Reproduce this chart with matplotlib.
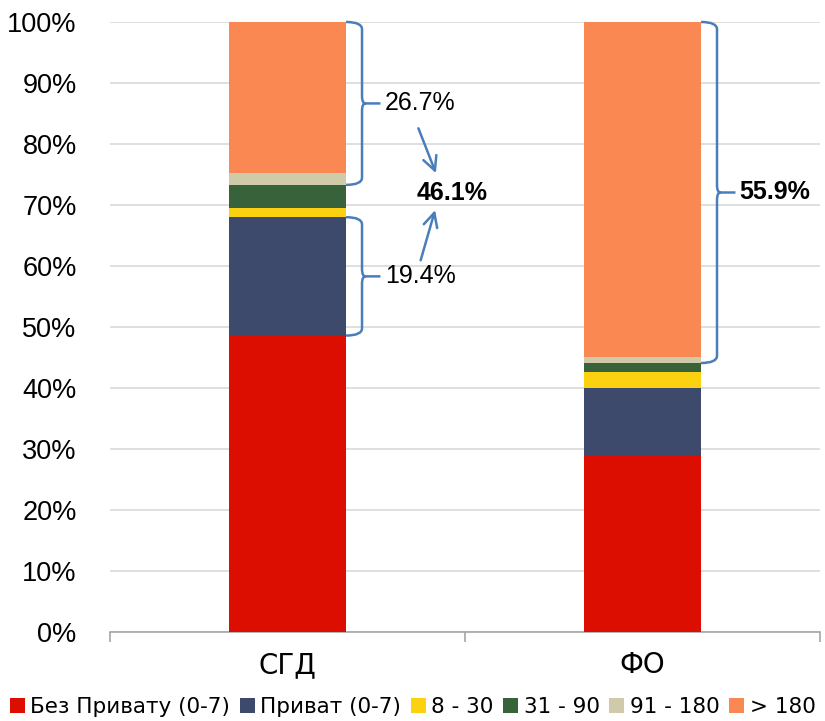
import matplotlib
matplotlib.use("Agg")
import matplotlib.pyplot as plt
from matplotlib.path import Path as MPath
from matplotlib.patches import PathPatch, Patch

plt.rcParams["font.family"] = ["Liberation Sans", "DejaVu Sans"]

categories = ["СГД", "ФО"]
series_names = ["Без Привату (0-7)", "Приват (0-7)", "8 - 30", "31 - 90", "91 - 180", "> 180"]
series_colors = ["#DC0E02", "#3D4A6B", "#FCD110", "#38633A", "#CFCAA9", "#F98852"]
values = {
    "Без Привату (0-7)": [48.6, 28.9],
    "Приват (0-7)": [19.4, 11.1],
    "8 - 30": [1.5, 2.6],
    "31 - 90": [3.8, 1.5],
    "91 - 180": [1.9, 1.0],
    "> 180": [24.8, 54.9],
}
# brace annotations: (category index, bottom, top, label, bold)
braces = [
    (0, 73.3, 100.0, "26.7%", False),
    (0, 48.6, 68.0, "19.4%", False),
    (1, 44.1, 100.0, "55.9%", True),
]
total_label = "46.1%"

brace_color = "#4A7EBB"
bar_width = 0.33
narrow = ["Liberation Sans Narrow", "DejaVu Sans"]

fig = plt.figure(figsize=(8.25, 7.21), dpi=100)
ax = fig.add_axes([0.1333, 0.1234, 0.8606, 0.8461])

x = list(range(len(categories)))
bottoms = [0.0] * len(categories)
for name, color in zip(series_names, series_colors):
    vals = values[name]
    ax.bar(x, vals, bar_width, bottom=bottoms, color=color, label=name, zorder=3)
    bottoms = [b + v for b, v in zip(bottoms, vals)]

ax.set_xlim(-0.5, 1.5)
ax.set_ylim(0, 100)
ax.set_yticks(range(0, 101, 10))
ax.set_yticklabels([f"{v}%" for v in range(0, 101, 10)])
ax.yaxis.grid(True, color="#D9D9D9", linewidth=1.2, zorder=0)
ax.set_axisbelow(True)
for side in ["left", "right", "top"]:
    ax.spines[side].set_visible(False)
ax.spines["bottom"].set_color("#A6A6A6")
ax.spines["bottom"].set_linewidth(1.2)
ax.tick_params(axis="y", length=0, pad=24, labelsize=19.5)
ax.set_xticks(x)
ax.set_xticklabels(categories, fontsize=20, family=narrow)
ax.set_xticks([-0.5, 0.5, 1.5], minor=True)
ax.tick_params(axis="x", which="major", length=0, pad=14)
ax.tick_params(axis="x", which="minor", length=7, width=1.2, color="#A6A6A6")


def draw_brace(ax, xc, y0, y1):
    x0 = xc + bar_width / 2
    xv = xc + 0.21
    xt = xc + 0.262
    ym = (y0 + y1) / 2
    r = 1.2
    verts = [
        (x0, y1), (xv, y1), (xv, y1 - r),
        (xv, ym + r), (xv, ym), (xv + 0.01, ym), (xt, ym),
        (xv + 0.01, ym), (xv, ym), (xv, ym - r),
        (xv, y0 + r), (xv, y0), (x0, y0),
    ]
    codes = [
        MPath.MOVETO, MPath.CURVE3, MPath.CURVE3,
        MPath.LINETO, MPath.CURVE3, MPath.CURVE3, MPath.LINETO,
        MPath.MOVETO, MPath.CURVE3, MPath.CURVE3,
        MPath.LINETO, MPath.CURVE3, MPath.CURVE3,
    ]
    ax.add_patch(PathPatch(MPath(verts, codes), fill=False, edgecolor=brace_color,
                           linewidth=1.8, zorder=4, clip_on=False))
    return xt, ym


for ci, lo, hi, label, bold in braces:
    xt, ym = draw_brace(ax, ci, lo, hi)
    ax.text(xt + 0.012, ym, label, fontsize=18, va="center", ha="left",
            fontweight="bold" if bold else "normal", zorder=5)

ax.text(0.463, 72.0, total_label, fontsize=18, fontweight="bold",
        va="center", ha="center", zorder=5)
arrow_kw = dict(arrowstyle="->,head_length=1.0,head_width=0.5", color=brace_color, lw=1.8)
ax.annotate("", xy=(0.421, 74.8), xytext=(0.366, 83.0), arrowprops=arrow_kw)
ax.annotate("", xy=(0.418, 69.6), xytext=(0.373, 60.5), arrowprops=arrow_kw)

handles = [Patch(facecolor=c, edgecolor="none") for c in series_colors]
fig.legend(handles, series_names, loc="lower center", bbox_to_anchor=(0.5, -0.021),
           ncol=6, frameon=False, handlelength=0.7, handleheight=0.7,
           handletextpad=0.25, columnspacing=0.45,
           prop={"family": narrow, "size": 15.5})

fig.savefig("out.png", dpi=100)
